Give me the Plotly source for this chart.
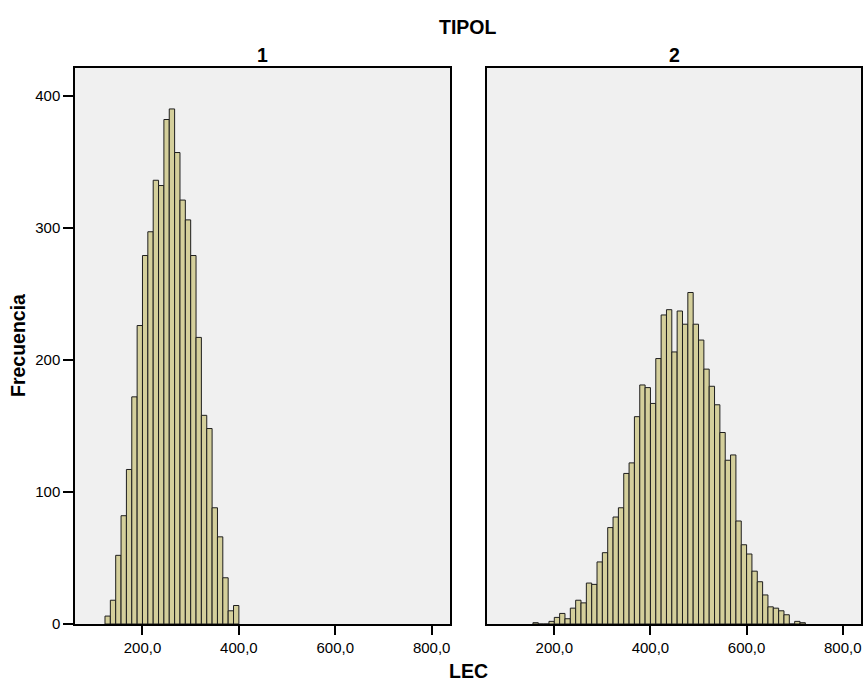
import numpy as np
import plotly.graph_objects as go

# ---- data ----
bin_width = 200.0 / 18.0          # LEC bin width
tipol_labels = ["1", "2"]

# TIPOL = 1 : first bin starts at 122.2 (7 bins below 200)
left_first_bin = 200.0 - 7 * bin_width
left_counts = [6, 18, 52, 82, 117, 172, 226, 279, 297, 336, 332, 382, 390,
               357, 321, 306, 279, 217, 158, 148, 88, 66, 35, 10, 14]

# TIPOL = 2 : first bin starts at 155.6 (4 bins below 200)
right_first_bin = 200.0 - 4 * bin_width
right_counts = [1, 0, 0, 2, 5, 8, 4, 12, 18, 16, 31, 30, 47, 54, 73, 81, 88,
                114, 122, 157, 181, 179, 167, 201, 234, 238, 206, 237, 227,
                251, 227, 215, 193, 180, 166, 145, 124, 128, 78, 60, 53, 40,
                32, 22, 13, 12, 10, 7, 0, 2, 1]

x_ticks = [200, 400, 600, 800]
y_ticks = [0, 100, 200, 300, 400]

# ---- figure ----
W, H = 866, 684
BAR_FILL = "#d4cf9b"
BAR_LINE = "#1e1e1e"
FONT = "Liberation Sans, Arial, sans-serif"
TICK_SIZE = 15
TITLE_SIZE = 19.5

def centers(first, counts):
    return first + bin_width * (np.arange(len(counts)) + 0.5)

fig = go.Figure()
fig.add_trace(go.Bar(x=centers(left_first_bin, left_counts), y=left_counts,
                     width=bin_width, xaxis="x", yaxis="y",
                     marker=dict(color=BAR_FILL, line=dict(color=BAR_LINE, width=1)),
                     showlegend=False, hoverinfo="x+y"))
fig.add_trace(go.Bar(x=centers(right_first_bin, right_counts), y=right_counts,
                     width=bin_width, xaxis="x2", yaxis="y2",
                     marker=dict(color=BAR_FILL, line=dict(color=BAR_LINE, width=1)),
                     showlegend=False, hoverinfo="x+y"))

def px_x(p):
    return p / W

def px_y(p):
    return 1 - p / H

left_dom = [px_x(75), px_x(450)]
right_dom = [px_x(487), px_x(861)]
y_dom = [px_y(624), px_y(68)]

xcommon = dict(range=[60, 838], tickvals=x_ticks, tickformat=".1f",
               ticks="outside", ticklen=9, tickwidth=1.5, tickcolor="black",
               showline=True, linecolor="black", linewidth=1.5, mirror=True,
               showgrid=False, zeroline=False, automargin=False,
               tickfont=dict(family=FONT, size=TICK_SIZE, color="black"))
ycommon = dict(range=[0, 421], tickvals=y_ticks,
               showline=True, linecolor="black", linewidth=1.5, mirror=True,
               showgrid=False, zeroline=False, automargin=False,
               tickfont=dict(family=FONT, size=TICK_SIZE, color="black"))

def label(text, x, y, angle=0):
    return dict(text="<b>%s</b>" % text, x=px_x(x), y=px_y(y),
                xref="paper", yref="paper", xanchor="center", yanchor="middle",
                showarrow=False, textangle=angle,
                font=dict(family=FONT, size=TITLE_SIZE, color="black"))

fig.update_layout(
    width=W, height=H,
    margin=dict(l=0, r=0, t=0, b=0),
    paper_bgcolor="white",
    plot_bgcolor="#f0f0f0",
    separators=",.",
    barmode="overlay",
    xaxis=dict(domain=left_dom, anchor="y", **xcommon),
    xaxis2=dict(domain=right_dom, anchor="y2", **xcommon),
    yaxis=dict(domain=y_dom, anchor="x", ticks="outside", ticklen=10,
               tickwidth=1.5, tickcolor="black", **ycommon),
    yaxis2=dict(domain=y_dom, anchor="x2", ticks="", showticklabels=False,
                matches="y", **ycommon),
    annotations=[
        label("TIPOL", 468, 27),
        label(tipol_labels[0], 262.5, 55),
        label(tipol_labels[1], 674, 55),
        label("LEC", 468, 671),
        label("Frecuencia", 18, 346, -90),
    ],
)

fig.write_html("out.html")
